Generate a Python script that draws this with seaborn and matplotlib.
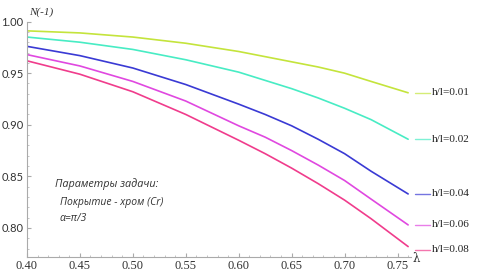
import numpy as np
import pandas as pd
import matplotlib
matplotlib.use('Agg')
import matplotlib.pyplot as plt
import seaborn as sns
from matplotlib.ticker import MultipleLocator

# значения
lam = [0.40, 0.45, 0.50, 0.55, 0.60, 0.625, 0.65, 0.675, 0.70, 0.725, 0.76]
n_001 = [0.991, 0.989, 0.985, 0.979, 0.971, 0.966, 0.961, 0.956, 0.950, 0.942, 0.931]
n_002 = [0.985, 0.980, 0.973, 0.963, 0.951, 0.943, 0.935, 0.926, 0.916, 0.905, 0.886]
n_004 = [0.976, 0.967, 0.955, 0.939, 0.920, 0.910, 0.899, 0.886, 0.872, 0.855, 0.833]
n_006 = [0.968, 0.957, 0.942, 0.923, 0.899, 0.888, 0.875, 0.861, 0.846, 0.828, 0.803]
n_008 = [0.962, 0.949, 0.932, 0.910, 0.885, 0.872, 0.858, 0.843, 0.827, 0.809, 0.782]
labels = ['h/l=0.01', 'h/l=0.02', 'h/l=0.04', 'h/l=0.06', 'h/l=0.08']
colors = ['#c4e43c', '#48ecc4', '#3a3ad4', '#e048e0', '#f03c8c']
xticks = [0.40, 0.45, 0.50, 0.55, 0.60, 0.65, 0.70, 0.75]
yticks = [0.80, 0.85, 0.90, 0.95, 1.00]

series = [n_001, n_002, n_004, n_006, n_008]
df = pd.concat([pd.DataFrame({'lam': lam, 'N': s, 'h': lab})
                for s, lab in zip(series, labels)])

sns.set_style('ticks')
fig = plt.figure(figsize=(4.81, 2.73), dpi=100)
ax = fig.add_axes([0.056, 0.059, 0.798, 0.862])

sns.lineplot(data=df, x='lam', y='N', hue='h', palette=colors,
             linewidth=1.2, legend=False, ax=ax)

ax.set_xlim(0.40, 0.7625)
ax.set_ylim(0.772, 1.0)
ax.set_xticks(xticks)
ax.set_yticks(yticks)
ax.xaxis.set_minor_locator(MultipleLocator(0.01))
ax.yaxis.set_minor_locator(MultipleLocator(0.01))
ax.set_xticklabels(['%.2f' % t for t in xticks], family='Liberation Serif',
                   fontsize=9, color='#333333')
ax.set_yticklabels(['%.2f' % t for t in yticks], family='Lato',
                   fontsize=8, color='#333333')
ax.tick_params(which='major', direction='in', length=3, color='#aaaaaa', pad=2.5)
ax.tick_params(which='minor', direction='in', length=1.5, color='#bbbbbb')
ax.set_xlabel('')
ax.set_ylabel('')
for s in ['top', 'right']:
    ax.spines[s].set_visible(False)
for s in ['left', 'bottom']:
    ax.spines[s].set_color('#aaaaaa')
    ax.spines[s].set_linewidth(0.8)

ax.text(0.005, 1.04, 'N(-1)', transform=ax.transAxes, fontsize=8,
        style='italic', family='Liberation Serif', color='#333333', va='center')
ax.text(1.005, -0.005, 'λ', transform=ax.transAxes, fontsize=8.5,
        family='DejaVu Serif', color='#333333', va='center')

# подписи кривых справа
for s, lab, c in zip(series, labels, colors):
    y = s[-1]
    if lab == 'h/l=0.08':
        y = y - 0.003
    ax.plot([0.7665, 0.7805], [y, y], color=c, lw=1.0, clip_on=False, alpha=0.7)
    ax.text(0.782, y, lab, fontsize=8.1, family='Liberation Serif',
            color='#222222', va='center')

ax.text(0.072, 0.298, 'Параметры задачи:', transform=ax.transAxes,
        fontsize=7.8, style='italic', family='Open Sans', color='#333333')
ax.text(0.085, 0.221, 'Покрытие - хром (Cr)', transform=ax.transAxes,
        fontsize=7.5, style='italic', family='Open Sans', color='#333333')
ax.text(0.085, 0.153, 'α=π/3', transform=ax.transAxes,
        fontsize=7.5, style='italic', family='Open Sans', color='#333333')

plt.savefig('out.png', dpi=100)
